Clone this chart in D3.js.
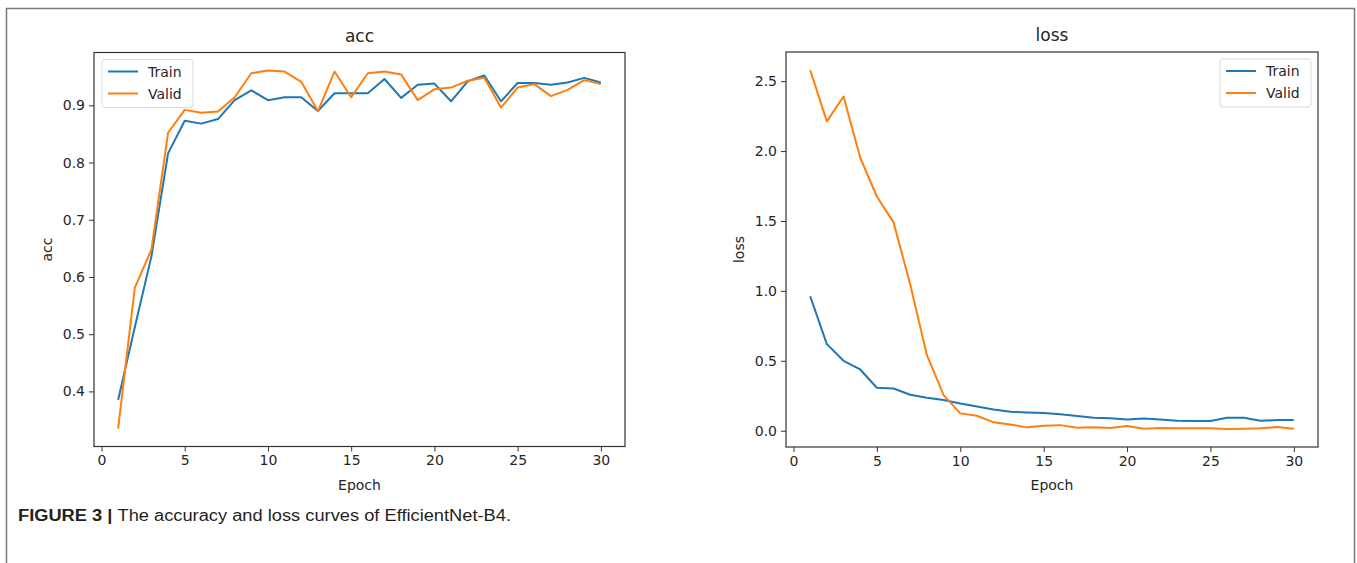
<!DOCTYPE html>
<html>
<head>
<meta charset="utf-8">
<script src="https://cdn.jsdelivr.net/npm/d3@7"></script>
<style>
  body { margin: 0; background: #fff; }
  svg { display: block; }
</style>
</head>
<body>
<div id="fig"></div>
<script>
// epoch numbers and the four curves
var epochs = d3.range(1, 31);
var accTrain = [0.385, 0.512, 0.636, 0.816, 0.873, 0.868, 0.876, 0.909, 0.926, 0.909,
                0.914, 0.914, 0.890, 0.921, 0.921, 0.921, 0.946, 0.913, 0.936, 0.938,
                0.907, 0.942, 0.952, 0.907, 0.939, 0.939, 0.936, 0.940, 0.948, 0.940];
var accValid = [0.335, 0.581, 0.648, 0.852, 0.892, 0.887, 0.889, 0.914, 0.956, 0.961,
                0.959, 0.941, 0.890, 0.959, 0.914, 0.956, 0.959, 0.954, 0.909, 0.928,
                0.931, 0.943, 0.948, 0.896, 0.931, 0.937, 0.916, 0.927, 0.944, 0.937];
var lossTrain = [0.962, 0.619, 0.500, 0.438, 0.307, 0.302, 0.257, 0.236, 0.219, 0.195,
                 0.174, 0.152, 0.136, 0.131, 0.126, 0.117, 0.105, 0.093, 0.090, 0.081,
                 0.088, 0.081, 0.071, 0.069, 0.069, 0.093, 0.093, 0.071, 0.076, 0.076];
var lossValid = [2.580, 2.212, 2.390, 1.952, 1.675, 1.490, 1.045, 0.540, 0.255, 0.124,
                 0.107, 0.060, 0.045, 0.024, 0.036, 0.040, 0.021, 0.024, 0.019, 0.033,
                 0.014, 0.019, 0.017, 0.017, 0.017, 0.012, 0.014, 0.017, 0.026, 0.014];

var epochTicks = [0, 5, 10, 15, 20, 25, 30];
var accTicks = [0.4, 0.5, 0.6, 0.7, 0.8, 0.9];
var lossTicks = [0.0, 0.5, 1.0, 1.5, 2.0, 2.5];
var seriesNames = ["Train", "Valid"];
var colors = ["#1f77b4", "#ff7f0e"];

var W = 1357, H = 563;
var svg = d3.select("#fig").append("svg")
    .attr("width", W)
    .attr("height", H);

// outer frame of the figure
svg.append("rect")
    .attr("x", 6.5).attr("y", 8.5)
    .attr("width", 1348).attr("height", 600)
    .attr("fill", "none")
    .attr("stroke", "#7a7a7a")
    .attr("stroke-width", 1.5);

var textColor = "#262626";
var font = "DejaVu Sans";

function panel(opt) {
  var g = svg.append("g");

  // matplotlib style limits: 5% margin around the data
  var xs = d3.scaleLinear()
      .domain([1 - 29 * 0.05, 30 + 29 * 0.05])
      .range([opt.left, opt.right]);
  var all = opt.series[0].concat(opt.series[1]);
  var ext = d3.extent(all);
  var pad = (ext[1] - ext[0]) * 0.05;
  var ys = d3.scaleLinear()
      .domain([ext[0] - pad, ext[1] + pad])
      .range([opt.bottom, opt.top]);

  var xAxis = g.append("g")
      .attr("transform", "translate(0," + opt.bottom + ")")
      .call(d3.axisBottom(xs).tickValues(epochTicks).tickSize(5).tickPadding(4).tickFormat(d3.format("d")));
  var yAxis = g.append("g")
      .attr("transform", "translate(" + opt.left + ",0)")
      .call(d3.axisLeft(ys).tickValues(opt.ticks).tickSize(5).tickPadding(4).tickFormat(d3.format(".1f")));

  [xAxis, yAxis].forEach(function(a) {
    a.select(".domain").remove();
    a.selectAll(".tick line").attr("stroke", "#333").attr("stroke-width", 1);
    a.selectAll(".tick text")
        .attr("fill", textColor)
        .style("font-family", font)
        .style("font-size", "14px");
  });

  var line = d3.line()
      .x(function(d, i) { return xs(epochs[i]); })
      .y(function(d) { return ys(d); });

  opt.series.forEach(function(s, k) {
    g.append("path")
        .datum(s)
        .attr("d", line)
        .attr("fill", "none")
        .attr("stroke", colors[k])
        .attr("stroke-width", 2)
        .attr("stroke-linejoin", "round");
  });

  // axes box
  g.append("rect")
      .attr("x", opt.left).attr("y", opt.top)
      .attr("width", opt.right - opt.left)
      .attr("height", opt.bottom - opt.top)
      .attr("fill", "none")
      .attr("stroke", "#333")
      .attr("stroke-width", 1.2);

  g.append("text")
      .attr("x", (opt.left + opt.right) / 2)
      .attr("y", opt.top - 11)
      .attr("text-anchor", "middle")
      .attr("fill", textColor)
      .style("font-family", font)
      .style("font-size", "17px")
      .text(opt.title);

  g.append("text")
      .attr("x", (opt.left + opt.right) / 2)
      .attr("y", opt.bottom + 43)
      .attr("text-anchor", "middle")
      .attr("fill", textColor)
      .style("font-family", font)
      .style("font-size", "14px")
      .text("Epoch");

  g.append("text")
      .attr("transform", "translate(" + opt.ylabelX + "," + ((opt.top + opt.bottom) / 2) + ") rotate(-90)")
      .attr("text-anchor", "middle")
      .attr("fill", textColor)
      .style("font-family", font)
      .style("font-size", "14px")
      .text(opt.title);

  // legend
  var lg = g.append("g").attr("transform", "translate(" + opt.legendX + "," + (opt.top + 7) + ")");
  lg.append("rect")
      .attr("width", 91).attr("height", 48)
      .attr("rx", 3)
      .attr("fill", "#fff")
      .attr("fill-opacity", 0.8)
      .attr("stroke", "#d9d9d9");
  seriesNames.forEach(function(name, k) {
    var yy = 12 + k * 22;
    lg.append("line")
        .attr("x1", 6).attr("x2", 36)
        .attr("y1", yy).attr("y2", yy)
        .attr("stroke", colors[k])
        .attr("stroke-width", 2);
    lg.append("text")
        .attr("x", 46).attr("y", yy + 5)
        .attr("fill", textColor)
        .style("font-family", font)
        .style("font-size", "14px")
        .text(name);
  });
}

panel({ left: 94, right: 625, top: 52.5, bottom: 446.5, title: "acc",
        series: [accTrain, accValid], ticks: accTicks, ylabelX: 52, legendX: 102 });
panel({ left: 786, right: 1318, top: 52, bottom: 447, title: "loss",
        series: [lossTrain, lossValid], ticks: lossTicks, ylabelX: 744, legendX: 1220 });

// caption
var cap = svg.append("text")
    .attr("x", 18).attr("y", 521)
    .attr("fill", "#231f20")
    .style("font-family", "Liberation Sans")
    .style("font-size", "16px")
    .attr("textLength", 493)
    .attr("lengthAdjust", "spacingAndGlyphs");
cap.append("tspan").style("font-weight", "bold").text("FIGURE 3 | ");
cap.append("tspan").text("The accuracy and loss curves of EfficientNet-B4.");
</script>
</body>
</html>
